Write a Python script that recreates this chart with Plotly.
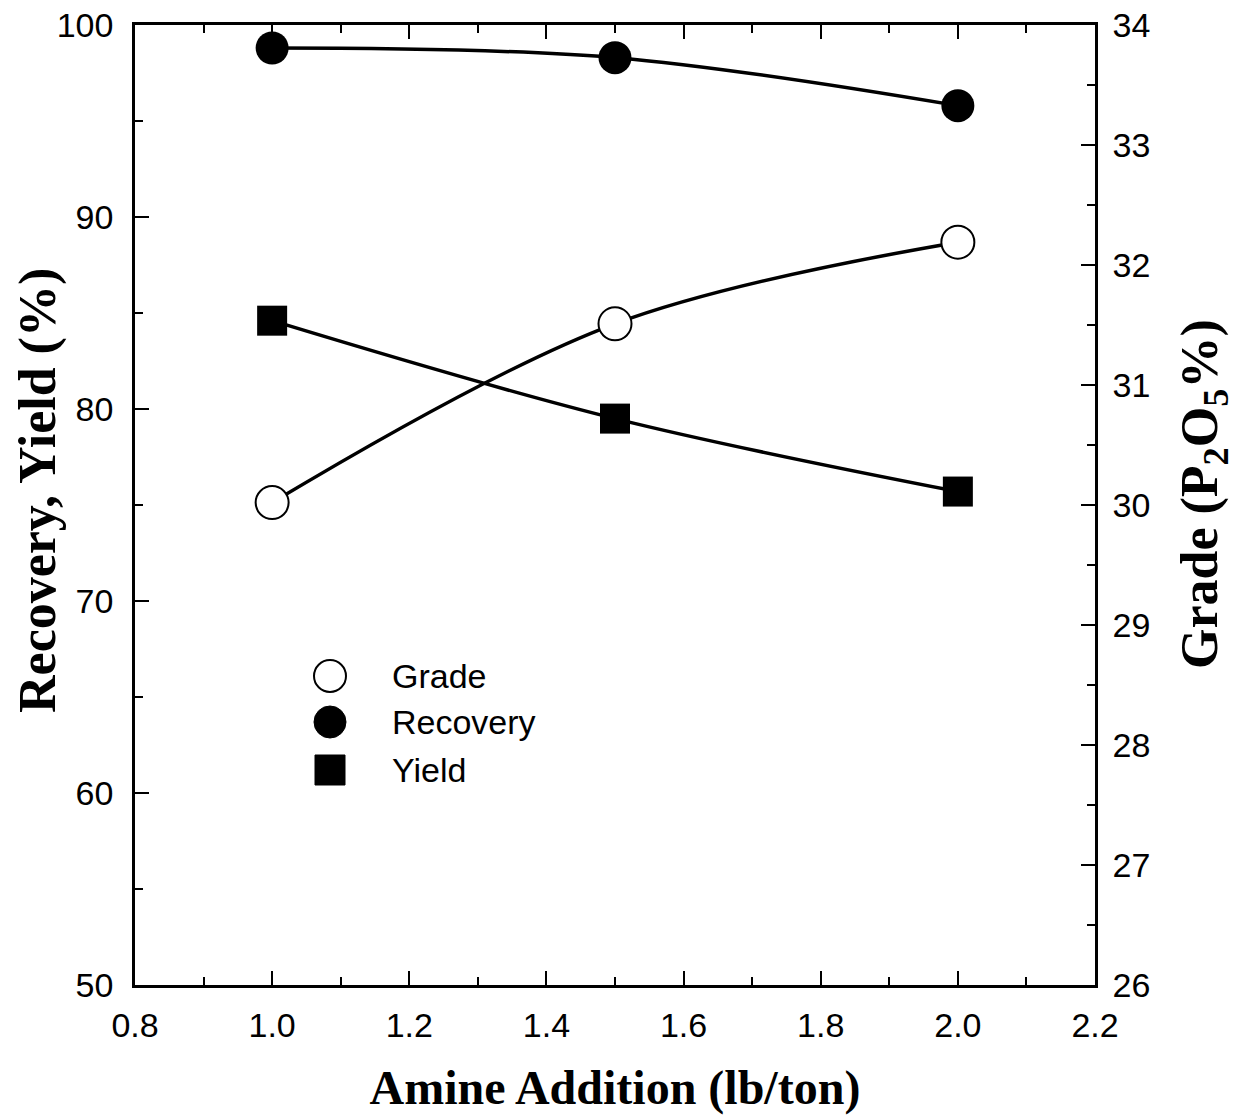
import plotly.graph_objects as go

amine = [1.0, 1.5, 2.0]
recovery = [98.8, 98.3, 95.8]
yield_ = [84.6, 79.5, 75.7]
grade = [30.02, 31.51, 32.19]

legend_labels = ["Grade", "Recovery", "Yield"]
x_ticks = [0.8, 1.0, 1.2, 1.4, 1.6, 1.8, 2.0, 2.2]
x_ticklabels = ["0.8", "1.0", "1.2", "1.4", "1.6", "1.8", "2.0", "2.2"]

fig = go.Figure()
msize = 33
fig.add_trace(go.Scatter(x=amine, y=recovery, mode="lines+markers", line=dict(color="black", width=3.5, shape="spline"),
                         marker=dict(symbol="circle", size=msize, color="black"), showlegend=False, cliponaxis=False))
fig.add_trace(go.Scatter(x=amine, y=yield_, mode="lines+markers", line=dict(color="black", width=3.5, shape="spline"),
                         marker=dict(symbol="square", size=30, color="black"), showlegend=False, cliponaxis=False))
fig.add_trace(go.Scatter(x=amine, y=grade, yaxis="y2", mode="lines+markers", line=dict(color="black", width=3.5, shape="spline"),
                         marker=dict(symbol="circle", size=msize, color="white", line=dict(color="black", width=2)),
                         showlegend=False, cliponaxis=False))

# manual legend (paper coords; plot area is 960x960 px)
r = 16 / 960
lx = (330 - 135) / 960
ys = [(985 - 676) / 960, (985 - 722) / 960, (985 - 770) / 960]
fig.add_shape(type="circle", xref="paper", yref="paper", x0=lx - r, x1=lx + r, y0=ys[0] - r, y1=ys[0] + r,
              line=dict(color="black", width=2), fillcolor="white")
fig.add_shape(type="circle", xref="paper", yref="paper", x0=lx - r, x1=lx + r, y0=ys[1] - r, y1=ys[1] + r,
              line=dict(color="black", width=1), fillcolor="black")
s = 15 / 960
fig.add_shape(type="rect", xref="paper", yref="paper", x0=lx - s, x1=lx + s, y0=ys[2] - s, y1=ys[2] + s,
              line=dict(color="black", width=1), fillcolor="black")
for lab, yy in zip(legend_labels, ys):
    fig.add_annotation(xref="paper", yref="paper", x=(390 - 135) / 960, y=yy, text=lab, showarrow=False,
                       xanchor="left", yanchor="middle", font=dict(family="Liberation Sans, Arial", size=34, color="black"))

tickfont = dict(family="Liberation Sans, Arial", size=34, color="black")
serif = "Liberation Serif, Times New Roman"

# axis titles as annotations
fig.add_annotation(xref="paper", yref="paper", x=(38 - 135) / 960, y=(985 - 491) / 960, textangle=-90,
                   text="<b>Recovery, Yield (%)</b>", showarrow=False, xanchor="center", yanchor="middle",
                   font=dict(family=serif, size=52, color="black"))
fig.add_annotation(xref="paper", yref="paper", x=(1203 - 135) / 960, y=(985 - 494) / 960, textangle=-90,
                   text="<b>Grade (P<sub>2</sub>O<sub>5</sub>%)</b>",
                   showarrow=False, xanchor="center", yanchor="middle",
                   font=dict(family=serif, size=52, color="black"))

fig.update_layout(
    width=1230, height=1112,
    margin=dict(l=127, r=143, t=17, b=135, autoexpand=False),
    paper_bgcolor="white", plot_bgcolor="white",
    xaxis=dict(range=[0.8, 2.2], tickvals=x_ticks, ticktext=x_ticklabels, ticks="inside", ticklen=14, tickwidth=1.5,
               tickcolor="black", showline=True, linecolor="black", linewidth=2.5, mirror="ticks", showgrid=False,
               zeroline=False, tickfont=tickfont, ticklabelstandoff=8, ticklabeloverflow="allow",
               minor=dict(dtick=0.1, tick0=0.8, ticks="inside", ticklen=8, tickwidth=1.5, tickcolor="black"),
               title=dict(text="<b>Amine Addition (lb/ton)</b>", font=dict(family=serif, size=48, color="black"),
                          standoff=28)),
    yaxis=dict(range=[50, 100], dtick=10, ticks="inside", ticklen=14, tickwidth=1.5, tickcolor="black",
               showline=True, linecolor="black", linewidth=2.5, showgrid=False, zeroline=False, tickfont=tickfont,
               ticklabelstandoff=12, ticklabeloverflow="allow",
               minor=dict(dtick=5, ticks="inside", ticklen=8, tickwidth=1.5, tickcolor="black")),
    yaxis2=dict(range=[26, 34], dtick=1, overlaying="y", side="right", ticks="inside", ticklen=14, tickwidth=1.5,
                tickcolor="black", showline=True, linecolor="black", linewidth=2.5, showgrid=False, zeroline=False,
                tickfont=tickfont, ticklabelstandoff=8, ticklabeloverflow="allow",
                minor=dict(dtick=0.5, ticks="inside", ticklen=8, tickwidth=1.5, tickcolor="black")),
)

fig.write_html("out.html")
